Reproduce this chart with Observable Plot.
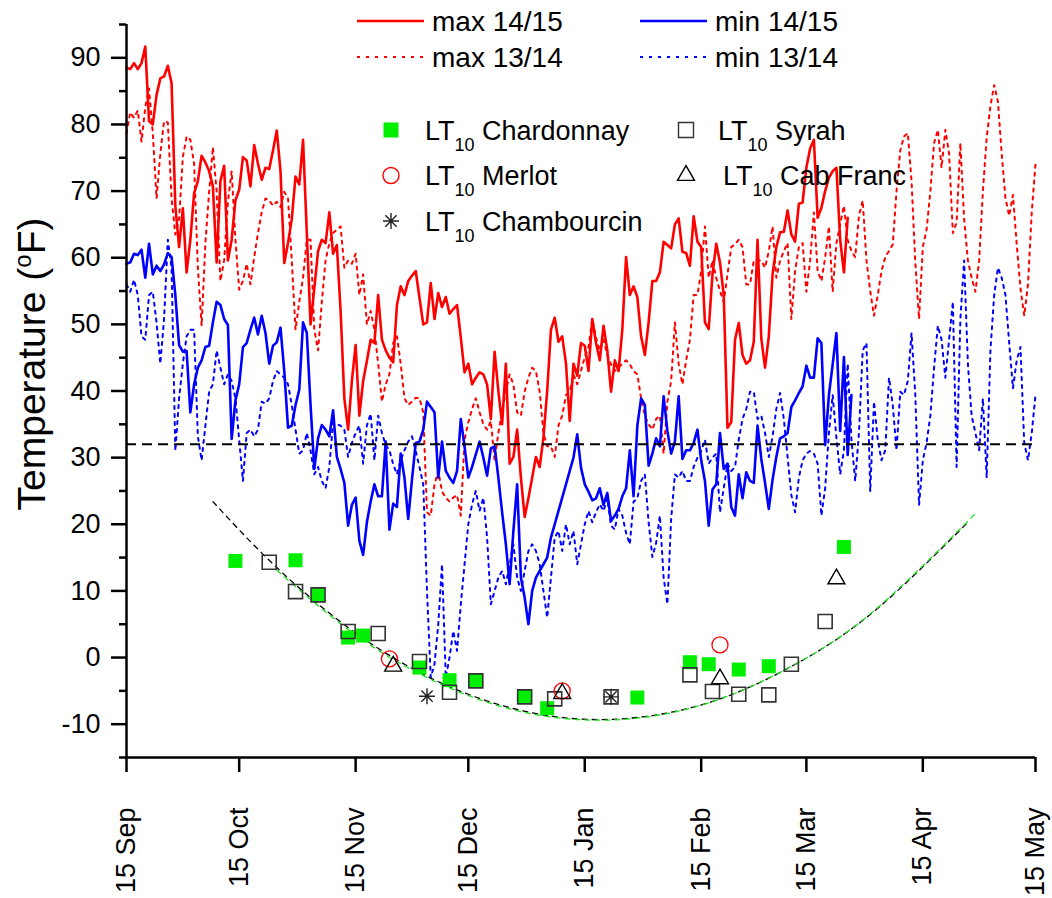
<!DOCTYPE html>
<html>
<head>
<meta charset="utf-8">
<script src="https://cdn.jsdelivr.net/npm/d3@7"></script>
<script src="https://cdn.jsdelivr.net/npm/@observablehq/plot@0.6"></script>
<style>
  html, body { margin: 0; padding: 0; background: #fff; }
  #chart svg { display: block; overflow: visible; }
</style>
</head>
<body>
<div id="chart"></div>
<script>
// ---------------- data (day 0 = 15 Sep) ----------------
const maxNow = [88.5,88.3,89.2,88.3,89.2,91.7,80.5,80.0,84.4,86.9,87.2,88.8,86.2,67.8,61.6,67.4,57.8,62.7,69.7,71.5,
75.3,74.3,73.0,70.7,59.3,71.5,73.8,59.6,62.7,68.6,70.2,75.1,74.6,70.7,76.9,74.1,71.7,73.5,73.3,76.1,
79.1,73.0,59.2,62.2,65.8,72.2,71.0,77.7,63.7,50.0,55.4,61.0,62.7,62.2,66.8,60.6,61.9,52.0,38.9,34.2,
41.5,46.9,36.3,41.5,44.5,47.7,47.2,54.4,47.7,46.1,45.0,44.3,52.9,55.7,54.4,56.5,57.3,58.0,54.0,50.0,
50.3,56.2,50.8,54.7,52.6,54.1,51.6,52.3,52.9,48.0,42.8,44.1,41.0,42.0,42.8,42.5,41.0,35.8,45.9,40.0,
35.0,44.1,29.1,30.1,34.2,27.0,21.1,23.9,27.0,30.1,28.6,33.0,40.0,49.2,51.0,47.4,48.2,44.1,35.5,44.1,
42.3,47.2,46.8,43.0,50.8,47.2,44.6,49.8,46.1,39.9,44.6,43.0,49.2,60.1,54.4,55.7,54.1,48.2,45.4,50.3,
56.5,56.5,57.8,62.4,61.9,61.4,65.0,65.9,60.9,60.7,58.8,66.2,62.4,61.6,50.3,49.3,57.5,62.1,59.3,54.4,
34.5,35.3,47.7,50.2,45.4,44.1,44.6,47.4,62.7,47.9,43.5,48.2,57.5,61.6,63.8,63.9,67.1,63.5,62.4,68.1,
68.3,73.5,76.4,77.7,66.0,67.5,70.0,72.0,73.0,73.5,62.7,57.8,66.0];

const minNow = [59.1,59.3,60.6,60.4,61.2,57.0,62.1,57.5,58.8,58.0,59.0,60.7,60.1,54.4,46.9,45.9,46.0,36.8,41.0,43.5,
44.6,46.6,46.8,50.3,53.4,52.9,50.8,49.9,32.8,38.6,41.0,46.6,47.2,49.2,51.0,48.5,51.3,48.7,44.1,46.8,
47.3,49.5,43.0,34.5,34.8,37.9,40.2,50.3,48.7,37.9,28.3,32.9,34.9,34.2,33.2,37.1,30.1,28.3,26.2,19.8,
22.9,24.0,17.5,15.4,20.3,23.4,26.0,24.2,24.2,32.4,19.2,23.1,22.6,30.6,27.0,20.8,26.7,32.2,32.4,34.2,
38.4,37.6,36.8,27.0,32.4,28.0,27.0,26.2,28.0,35.8,31.7,27.0,28.6,30.5,32.4,30.0,27.3,31.4,31.7,27.0,
21.8,17.0,11.0,19.0,26.0,12.0,9.0,5.0,10.0,12.0,13.0,14.0,15.0,18.0,20.0,22.0,24.0,26.0,28.0,30.0,
33.5,28.5,26.0,24.9,23.6,23.9,25.4,22.9,24.7,20.5,21.3,22.3,24.2,25.4,31.1,24.2,34.8,38.9,37.9,28.8,
30.6,32.9,31.7,39.2,34.0,30.6,32.4,39.2,29.8,31.1,31.1,32.2,34.2,29.6,26.5,19.8,25.2,26.0,33.7,28.3,
29.1,22.6,21.3,27.5,23.9,27.8,26.5,26.2,34.8,29.8,26.2,22.3,26.7,30.1,32.9,33.2,33.7,37.6,38.6,39.7,
40.7,43.8,42.0,42.0,47.9,47.2,31.9,39.4,44.0,48.7,34.0,45.1,30.4,39.4];

const maxPrev = [78.7,81.8,81.0,82.1,77.4,82.6,85.4,78.7,68.9,75.6,80.5,80.3,68.9,63.5,65.8,75.1,78.2,77.7,74.1,58.5,
49.8,62.2,69.9,76.6,69.9,56.5,59.6,68.4,73.0,62.7,55.2,56.5,59.1,56.0,60.1,63.7,66.8,68.9,68.6,67.8,
68.4,67.6,69.9,68.9,59.6,49.2,53.4,57.0,62.7,62.7,49.2,46.1,53.4,59.6,62.2,63.7,64.2,64.7,58.5,59.6,
59.1,60.6,54.4,57.5,50.0,52.0,49.2,44.1,38.4,41.0,42.5,47.2,48.2,44.1,38.9,37.9,38.4,39.0,38.9,36.8,
21.8,21.3,26.0,28.0,24.9,24.0,23.4,24.0,24.4,21.3,32.7,35.3,37.3,38.9,36.8,35.0,34.2,35.5,29.6,33.7,
37.0,39.9,42.5,41.0,36.8,36.3,39.9,42.0,43.5,43.0,39.9,33.7,31.7,31.7,30.1,34.8,36.3,39.4,39.9,42.5,
41.0,43.0,45.1,46.6,50.8,48.0,46.1,47.7,45.4,44.0,43.0,43.5,44.1,44.6,44.0,43.0,42.5,38.9,36.3,35.0,
34.2,35.8,36.3,30.6,38.4,41.5,50.3,44.1,41.0,44.6,47.7,54.4,54.4,58.0,64.7,57.0,59.6,57.0,55.0,53.4,
57.5,61.6,62.0,62.7,61.6,56.0,56.0,59.6,59.6,59.6,58.5,61.0,64.7,57.0,59.6,61.0,62.2,50.8,58.0,61.6,
62.2,54.9,59.6,66.8,58.0,56.5,60.0,64.7,54.9,62.2,65.0,67.8,62.7,61.0,60.1,66.3,68.6,59.6,55.0,51.3,
54.4,58.0,60.1,61.0,62.0,70.0,76.1,78.2,78.7,71.5,59.3,50.8,61.6,64.2,69.9,77.2,79.2,73.5,79.2,75.6,
63.7,65.3,77.2,65.8,59.6,57.0,54.9,59.6,70.0,78.0,82.8,85.9,83.4,75.6,68.9,66.3,69.4,62.0,55.4,51.3,
56.0,66.8,74.1];

const minPrev = [56.0,54.9,56.7,54.4,48.2,47.7,54.4,54.9,50.3,44.1,50.8,62.7,58.5,31.0,38.9,44.1,48.2,49.2,49.2,33.2,
29.6,34.8,39.9,41.0,46.1,43.5,41.0,42.5,41.5,38.9,32.7,26.5,33.7,34.2,33.2,34.2,38.4,38.1,38.9,41.5,
43.0,42.5,42.0,41.0,37.9,34.2,30.6,31.1,33.7,31.1,27.5,28.6,26.5,25.4,28.6,35.3,35.0,34.8,34.2,30.1,
32.2,33.7,34.8,29.1,34.8,36.6,29.6,36.3,33.7,31.9,31.1,29.0,27.5,29.6,31.1,32.4,33.2,31.0,28.6,26.0,
10.0,-3.0,-1.0,5.0,14.0,-3.0,0.0,4.0,1.0,8.0,14.0,20.0,23.0,25.0,22.0,24.0,18.0,8.0,10.0,12.0,
13.0,11.0,14.0,17.0,12.0,10.0,13.0,16.0,17.0,16.0,14.0,10.0,6.0,12.0,18.0,19.0,16.0,20.0,17.0,19.0,
14.0,17.0,20.0,22.0,20.3,21.8,23.0,22.0,23.9,19.8,19.2,22.3,21.3,18.7,17.0,23.4,23.9,26.5,27.5,20.3,
15.1,17.2,21.3,12.0,8.0,20.8,27.5,27.0,28.0,26.5,26.5,28.6,30.0,31.0,32.7,29.1,30.0,30.6,21.8,25.4,
29.1,28.0,28.6,32.7,35.8,37.3,39.9,39.9,35.8,36.3,33.7,30.1,33.2,37.3,39.7,35.8,30.1,24.4,21.8,27.0,
29.6,30.6,31.0,30.6,29.1,21.3,25.4,33.7,39.4,33.0,27.5,31.1,44.1,32.7,26.5,33.7,46.1,47.2,24.9,38.4,
32.7,29.6,31.1,42.0,37.9,31.1,39.9,39.4,41.5,48.7,39.4,22.9,29.6,32.2,36.3,43.5,49.8,47.7,42.0,47.7,
53.4,28.6,50.8,59.6,44.1,36.3,33.7,31.1,38.9,27.0,46.1,54.4,58.5,57.0,54.4,47.2,40.4,44.6,46.6,32.2,
29.6,33.7,39.4];

// LT10 hardiness points: [day, °F]
const chardonnay = [[29,14.5],[45,14.6],[51,9.4],[59,3.0],[63,3.3],[78,-1.5],[86,-3.4],[93,-3.5],[106,-5.9],[112,-7.6],[136,-6.0],[150,-0.7],[155,-1.0],[163,-1.8],[171,-1.3],[191,16.6]];
const syrah = [[38,14.3],[45,9.9],[51,9.4],[59,3.9],[67,3.6],[78,-0.6],[86,-5.2],[93,-3.5],[106,-5.9],[114,-6.2],[129,-5.9],[150,-2.6],[156,-5.1],[163,-5.5],[171,-5.6],[177,-1.0],[186,5.4]];
const merlot = [[70,-0.2],[116,-5.0],[158,1.9]];
const cabFranc = [[71,-1.3],[116,-5.4],[158,-3.2],[189,11.8]];
const chambourcin = [[80,-5.8],[129,-5.9]];

// fitted trend curves: [day, °F]
const fitBlack = [[23,23.4],[40,13.5],[60,4.1],[80,-2.8],[100,-7.2],[120,-9.2],[140,-8.7],[160,-5.8],[180,-0.4],[200,7.4],[224,20.3]];
const fitGreen = [[39,13.6],[60,3.8],[80,-3.0],[100,-7.4],[120,-9.3],[140,-8.8],[160,-5.8],[180,-0.4],[200,7.5],[226,21.6]];

const yTicksMajor = [-10,0,10,20,30,40,50,60,70,80,90];
const yTicksMinor = [-15,-5,5,15,25,35,45,55,65,75,85,95];
const xTickMonths = [[2014,8],[2014,9],[2014,10],[2014,11],[2015,0],[2015,1],[2015,2],[2015,3],[2015,4]];
const freezeLine = 32;

// ---------------- helpers ----------------
const start = Date.UTC(2014, 8, 15);
const day = i => new Date(start + i * 864e5);
const series = arr => arr.map((v, i) => ({date: day(i), value: v}));
const pts = arr => arr.map(([d, v]) => ({date: day(d), value: v}));
const xTicks = xTickMonths.map(([y, m]) => new Date(Date.UTC(y, m, 15)));

const asterisk8 = {
  draw(ctx, size) {
    const r = Math.sqrt(size / Math.PI), s = r * Math.SQRT1_2;
    ctx.moveTo(0, -r); ctx.lineTo(0, r);
    ctx.moveTo(-r, 0); ctx.lineTo(r, 0);
    ctx.moveTo(-s, -s); ctx.lineTo(s, s);
    ctx.moveTo(-s, s); ctx.lineTo(s, -s);
  }
};

const RED = "#ff0000", BLUE = "#0000ff", GREEN = "#00ee00";
const FONT = "Liberation Sans, Arial, Helvetica, sans-serif";

const chart = Plot.plot({
  width: 1052,
  height: 898,
  marginLeft: 126,
  marginRight: 17,
  marginTop: 24,
  marginBottom: 141,
  style: {fontFamily: FONT, fontSize: "27px", color: "black", background: "white"},
  x: {type: "utc", domain: [day(0), day(242)]},
  y: {domain: [-15, 95]},
  marks: [
    Plot.line(series(maxPrev), {x: "date", y: "value", stroke: RED, strokeWidth: 2, strokeDasharray: "3,5"}),
    Plot.line(series(minPrev), {x: "date", y: "value", stroke: BLUE, strokeWidth: 2, strokeDasharray: "3,5"}),
    Plot.line(series(maxNow), {x: "date", y: "value", stroke: RED, strokeWidth: 2.6}),
    Plot.line(series(minNow), {x: "date", y: "value", stroke: BLUE, strokeWidth: 2.6}),
    Plot.ruleY([freezeLine], {stroke: "black", strokeWidth: 2, strokeDasharray: "10,6"}),
    Plot.line(pts(fitBlack), {x: "date", y: "value", curve: "natural", stroke: "black", strokeWidth: 1.3, strokeDasharray: "5,5"}),
    Plot.line(pts(fitGreen), {x: "date", y: "value", curve: "natural", stroke: "#22dd22", strokeWidth: 1.3, strokeDasharray: "5,5", strokeDashoffset: 5}),
    Plot.dot(pts(chardonnay), {x: "date", y: "value", symbol: "square", r: 7.9, fill: GREEN, stroke: "none"}),
    Plot.dot(pts(syrah), {x: "date", y: "value", symbol: "square", r: 7.9, fill: "none", stroke: "#333", strokeWidth: 1.6}),
    Plot.dot(pts(merlot), {x: "date", y: "value", symbol: "circle", r: 8, fill: "none", stroke: RED, strokeWidth: 1.3}),
    Plot.dot(pts(cabFranc), {x: "date", y: "value", symbol: "triangle", r: 6.3, fill: "none", stroke: "black", strokeWidth: 1.4}),
    Plot.dot(pts(chambourcin), {x: "date", y: "value", symbol: asterisk8, r: 8, fill: "none", stroke: "#222", strokeWidth: 1.4}),
    Plot.axisY({ticks: yTicksMinor, tickSize: 7, tickFormat: () => "", label: null, strokeWidth: 2.5}),
    Plot.axisY({ticks: yTicksMajor, tickSize: 15, tickPadding: 11, tickFormat: d => String(d), label: null, strokeWidth: 2.5, fontSize: 27}),
    Plot.axisX({ticks: xTicks, tickFormat: d3.utcFormat("%d %b"), tickRotate: -90, tickSize: 15, tickPadding: 35, label: null, strokeWidth: 2.5, fontSize: 27}),
    Plot.ruleX([day(0)], {stroke: "black", strokeWidth: 2.5}),
    Plot.ruleY([-15], {stroke: "black", strokeWidth: 2.5})
  ]
});

document.getElementById("chart").appendChild(chart);

// ---------------- legends & title ----------------
const svg = d3.select(chart);
const lg = svg.append("g").attr("font-family", FONT).attr("fill", "black").attr("text-anchor", "start");

const lineLegend = [
  {label: "max 14/15", color: RED, dash: null, col: 0, row: 0},
  {label: "max 13/14", color: RED, dash: "3,6", col: 0, row: 1},
  {label: "min 14/15", color: BLUE, dash: null, col: 1, row: 0},
  {label: "min 13/14", color: BLUE, dash: "3,6", col: 1, row: 1}
];
lineLegend.forEach(it => {
  const x0 = it.col ? 640 : 357, y0 = it.row ? 57 : 21;
  lg.append("line").attr("x1", x0).attr("x2", x0 + 67).attr("y1", y0).attr("y2", y0)
    .attr("stroke", it.color).attr("stroke-width", it.dash ? 2 : 2.6)
    .attr("stroke-dasharray", it.dash);
  lg.append("text").attr("x", x0 + 75).attr("y", y0 + 10).attr("font-size", 28).text(it.label);
});

const symLegend = [
  {name: "Chardonnay", sym: d3.symbolSquare, size: 225, fill: GREEN, stroke: "none", col: 0, row: 0},
  {name: "Merlot", sym: d3.symbolCircle, size: Math.PI * 64, fill: "none", stroke: RED, col: 0, row: 1},
  {name: "Chambourcin", sym: asterisk8, size: Math.PI * 64, fill: "none", stroke: "#222", col: 0, row: 2},
  {name: "Syrah", sym: d3.symbolSquare, size: 225, fill: "none", stroke: "#333", col: 1, row: 0},
  {name: "Cab Franc", sym: d3.symbolTriangle, size: 125, fill: "none", stroke: "black", col: 1, row: 1}
];
symLegend.forEach(it => {
  const sx = it.col ? 686 : 391, tx = it.col ? (it.row ? 723 : 718) : 425;
  const cy = 130 + it.row * 45.5;
  lg.append("path").attr("transform", `translate(${sx},${cy})`)
    .attr("d", d3.symbol(it.sym, it.size)())
    .attr("fill", it.fill).attr("stroke", it.stroke).attr("stroke-width", 1.4);
  const t = lg.append("text").attr("x", tx).attr("y", cy + 9.5).attr("font-size", 27);
  t.append("tspan").text("LT");
  t.append("tspan").attr("dy", 11).attr("font-size", 18).text("10");
  t.append("tspan").attr("dy", -11).text(" " + it.name);
});

const title = svg.append("text").attr("font-family", FONT).attr("font-size", 39).attr("fill", "black")
  .attr("text-anchor", "middle").attr("transform", "translate(45,364) rotate(-90)");
title.append("tspan").text("Temperature (");
title.append("tspan").attr("dy", -14).attr("font-size", 24).text("o");
title.append("tspan").attr("dy", 14).text("F)");
</script>
</body>
</html>
